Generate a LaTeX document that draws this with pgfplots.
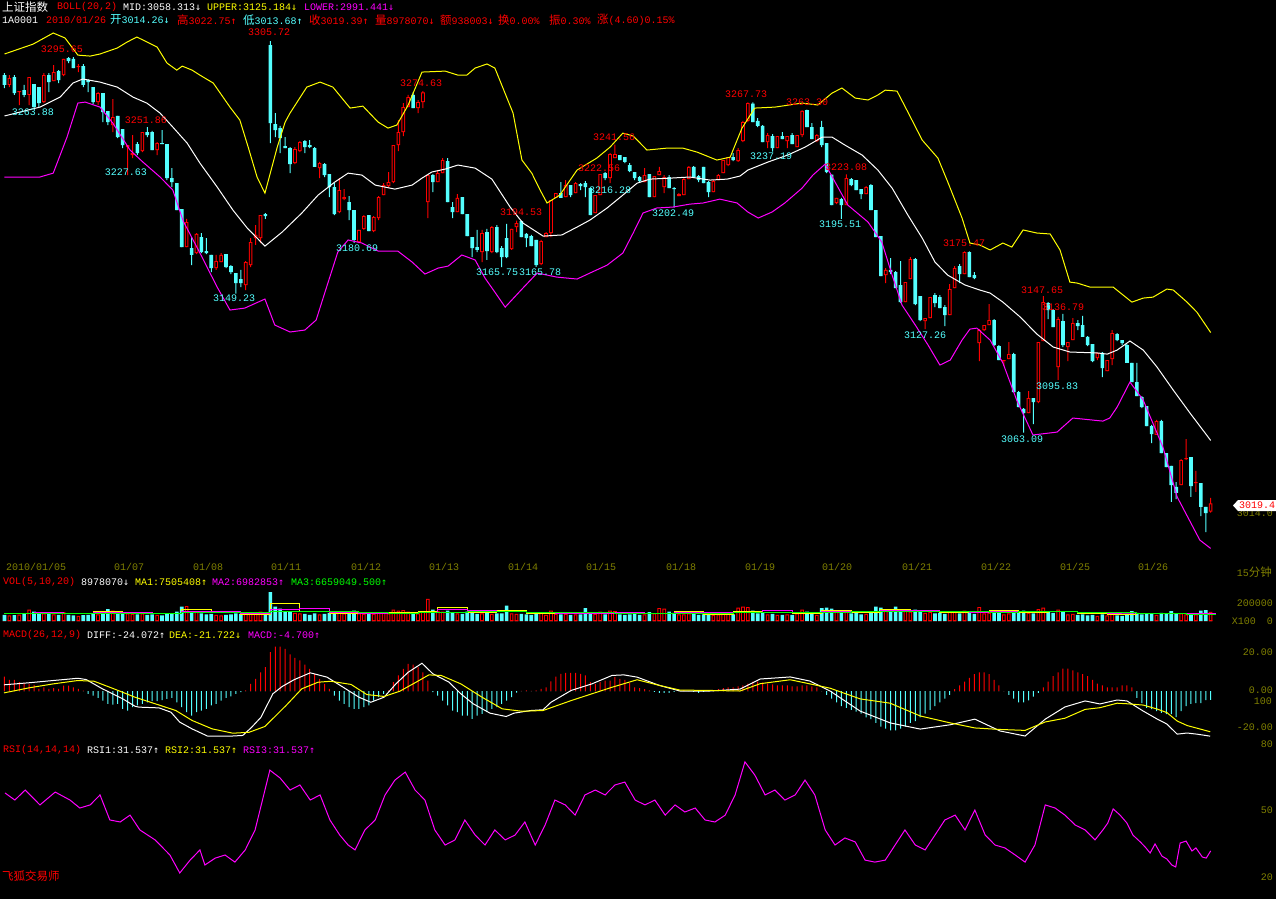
\documentclass[border=0pt]{standalone}
\usepackage{fontspec}
\setmainfont{Liberation Mono}
\newfontfamily\cjk{Noto Sans CJK SC}
\newfontfamily\arf{DejaVu Sans Mono}
\usepackage{pgfplots}
\usepackage{pgfplotstable}
\pgfplotsset{compat=1.18}
\definecolor{kred}{RGB}{255,0,0}
\definecolor{kcyan}{RGB}{84,255,255}
\definecolor{kyel}{RGB}{255,255,0}
\definecolor{kmag}{RGB}{255,0,255}
\definecolor{kgrn}{RGB}{0,255,0}
\definecolor{kolive}{RGB}{128,128,0}
\newcommand{\up}{{\arf ↑}}
\newcommand{\dn}{{\arf ↓}}
\newcommand{\C}[1]{{\fontsize{11.5}{12}\selectfont\cjk #1}}
\pgfplotsset{cb/.style 2 args={ybar, bar shift=0pt, bar width=#2, draw=none, fill=#1, mark=none},
  sb/.style 2 args={bar width=#2, draw=none, fill=#1, mark=none},
  panel/.style={anchor=north west, scale only axis, width=1220pt, xmin=-0.914, xmax=246.9, hide axis}}
\newcommand{\DN}{(\thisrow{c}<\thisrow{o})}
\newcommand{\UP}{(\thisrow{c}>=\thisrow{o})}

\pgfplotstableread{
i o h l c v m
0 3284.6 3285.9 3276.6 3278.5 60000 7.7
1 3278.5 3284.6 3277.2 3282.8 55000 6
2 3283.4 3284.6 3272.3 3273.5 58000 6
3 3274.1 3274.7 3266.1 3274.7 62000 4.7
4 3275.3 3278.5 3271.0 3272.3 70000 4.2
5 3272.3 3283.4 3266.1 3283.4 110000 3.8
6 3279.1 3279.1 3264.2 3264.8 90000 3.3
7 3277.2 3277.2 3264.8 3267.3 80000 1.2
8 3267.9 3285.9 3267.3 3284.6 75000 2
9 3284.6 3285.9 3274.1 3280.3 70000 1.2
10 3280.9 3290.8 3280.9 3286.5 65000 1.5
11 3287.1 3287.7 3279.7 3281.5 60000 1.2
12 3284.6 3294.6 3284.0 3294.6 85000 2.9
13 3295.2 3295.8 3292.1 3293.3 60000 2.9
14 3294.6 3295.8 3289.0 3289.0 55000 2
15 3289.6 3291.5 3286.5 3290.2 50000 1.2
16 3290.2 3291.5 3277.2 3278.5 58000 0.2
17 3281.5 3282.2 3274.1 3280.3 60000 -1.5
18 3277.2 3277.2 3266.7 3267.9 70000 -2.4
19 3267.9 3274.1 3266.1 3273.5 65000 -3.6
20 3273.5 3273.5 3255.5 3261.7 80000 -5.1
21 3262.3 3262.3 3253.7 3255.5 115000 -6.8
22 3253.7 3269.8 3249.3 3258.6 100000 -7.2
23 3259.3 3259.3 3245.6 3246.2 85000 -6.8
24 3251.2 3251.2 3239.4 3241.3 80000 -9.5
25 3240.0 3241.3 3222.7 3241.3 75000 -10.4
26 3235.1 3247.5 3233.2 3236.3 70000 -8.6
27 3241.9 3243.1 3235.1 3236.3 65000 -7.7
28 3237.6 3249.3 3236.9 3249.3 75000 -6.8
29 3249.3 3252.4 3246.2 3247.5 60000 -6
30 3249.3 3250.0 3238.2 3238.2 65000 -5.4
31 3238.2 3243.1 3235.1 3242.5 60000 -5.4
32 3242.5 3250.6 3241.9 3241.9 55000 -4.8
33 3241.9 3241.9 3219.6 3220.8 70000 -4.2
34 3220.8 3227.0 3215.3 3218.4 75000 -3.6
35 3217.7 3217.7 3201.0 3201.0 90000 -6
36 3201.6 3201.6 3178.1 3178.1 140000 -8.6
37 3178.1 3195.5 3178.1 3193.6 145000 -11.3
38 3177.5 3184.3 3166.9 3173.2 95000 -13.1
39 3174.4 3186.8 3173.8 3186.2 85000 -11.3
40 3184.3 3186.8 3174.4 3175.0 75000 -10.4
41 3175.6 3183.7 3173.8 3174.4 65000 -9.5
42 3173.2 3173.2 3162.6 3165.1 70000 -7.7
43 3165.1 3173.2 3163.9 3169.4 60000 -6.8
44 3168.8 3174.4 3168.8 3173.2 55000 -5.1
45 3173.8 3173.8 3165.1 3165.7 60000 -3.6
46 3166.3 3166.9 3161.4 3162.6 65000 -2.9
47 3162.0 3162.0 3149.23 3155.8 75000 -1.5
48 3158.3 3163.9 3153.3 3155.8 70000 -0.6
49 3154.6 3169.4 3151.5 3168.8 80000 0.3
50 3166.9 3183.7 3165.7 3181.2 85000 3.8
51 3183.7 3191.7 3179.4 3185.6 75000 6.5
52 3183.7 3197.9 3180.6 3197.9 90000 10
53 3198.5 3199.2 3195.5 3197.3 70000 12.7
54 3303.2 3305.72 3242.5 3254.9 280000 20.7
55 3254.3 3261.1 3246.2 3250.6 140000 23.7
56 3251.8 3253.1 3236.3 3245.6 120000 23.7
57 3240.7 3246.2 3239.4 3239.4 90000 22.5
58 3239.4 3240.0 3223.9 3229.5 95000 19.5
59 3230.1 3240.0 3229.5 3238.8 80000 17.7
60 3237.6 3243.8 3236.9 3243.1 75000 16.3
61 3243.8 3244.4 3236.3 3240.0 70000 14.1
62 3241.3 3244.4 3239.4 3240.0 60000 11.8
63 3239.4 3240.0 3227.7 3227.7 75000 9.2
64 3227.0 3230.8 3220.8 3230.1 65000 6.5
65 3229.5 3230.1 3221.5 3222.7 70000 3.8
66 3223.3 3223.3 3209.1 3215.3 80000 1.2
67 3215.3 3217.7 3197.9 3198.5 95000 -2.4
68 3199.8 3220.8 3199.2 3213.4 85000 -5.1
69 3207.8 3214.0 3207.2 3209.1 75000 -6.8
70 3206.0 3209.7 3194.8 3201.0 80000 -8.6
71 3201.0 3201.0 3180.69 3182.5 100000 -9.5
72 3181.2 3188.7 3180.6 3188.7 75000 -9.5
73 3189.3 3197.9 3188.7 3197.3 70000 -8.6
74 3197.9 3197.9 3188.0 3188.0 70000 -7.7
75 3188.0 3197.3 3187.4 3196.7 70000 -5.1
76 3196.1 3209.7 3194.8 3209.1 85000 -3.3
77 3210.3 3217.7 3210.3 3216.5 80000 -1.5
78 3215.9 3224.6 3215.3 3218.4 75000 0.3
79 3218.4 3241.3 3217.7 3241.3 110000 4.7
80 3241.3 3256.8 3237.6 3249.3 100000 8.3
81 3249.3 3267.3 3246.9 3264.8 105000 11.8
82 3264.8 3272.3 3264.8 3271.0 90000 14.5
83 3272.3 3274.0 3264.2 3264.2 85000 14.1
84 3264.2 3269.2 3261.1 3267.9 75000 12.7
85 3267.9 3274.63 3264.2 3274.0 95000 10
86 3206.0 3222.7 3196.1 3222.7 215000 5.6
87 3222.7 3223.3 3212.2 3218.4 110000 -0.6
88 3218.4 3225.8 3218.4 3223.9 95000 -2.4
89 3223.9 3233.2 3223.9 3232.0 90000 -5.1
90 3231.4 3233.2 3206.0 3206.0 100000 -7.7
91 3202.9 3206.0 3196.1 3199.8 85000 -10.4
92 3199.8 3210.9 3199.8 3208.5 75000 -11.3
93 3209.1 3209.1 3198.5 3198.5 70000 -13.1
94 3198.5 3198.5 3184.9 3184.9 90000 -13.1
95 3184.3 3184.3 3171.9 3177.5 80000 -14.8
96 3178.1 3188.7 3175.0 3176.3 70000 -13.1
97 3175.0 3188.7 3168.8 3186.8 75000 -12.2
98 3187.4 3189.3 3170.1 3175.6 80000 -11.3
99 3175.0 3191.1 3174.4 3190.5 70000 -9.5
100 3190.5 3191.7 3174.4 3175.0 75000 -8.6
101 3177.5 3178.7 3165.75 3171.9 75000 -6.8
102 3183.7 3192.4 3171.3 3171.9 150000 -5.1
103 3176.9 3189.3 3176.3 3189.3 75000 -3.3
104 3190.5 3194.53 3187.4 3193.0 70000 -0.9
105 3194.2 3194.5 3184.3 3184.3 70000 0.1
106 3186.2 3186.8 3178.1 3183.7 65000 0.3
107 3184.9 3185.6 3178.7 3178.7 60000 0.1
108 3182.5 3182.5 3165.78 3166.9 80000 0.3
109 3167.6 3182.5 3166.9 3181.8 85000 1.2
110 3184.3 3187.4 3184.3 3186.8 60000 2
111 3186.8 3207.2 3184.3 3207.2 100000 5.2
112 3208.5 3211.5 3208.5 3211.5 70000 7.7
113 3211.5 3218.4 3208.5 3208.5 65000 9.2
114 3209.1 3219.6 3209.1 3216.5 70000 9.7
115 3216.5 3216.5 3209.1 3210.3 60000 9.7
116 3211.5 3218.4 3211.5 3217.7 65000 9.7
117 3217.1 3217.7 3213.4 3215.9 65000 9.2
118 3217.7 3219.0 3209.1 3215.3 125000 8.3
119 3214.6 3214.6 3197.9 3197.9 85000 4.7
120 3199.2 3210.3 3199.2 3210.3 70000 3.8
121 3210.3 3223.3 3210.3 3223.3 90000 4.7
122 3223.9 3224.6 3219.6 3220.8 65000 5.6
123 3220.8 3236.3 3217.7 3235.7 100000 5.6
124 3233.2 3241.56 3233.2 3235.7 95000 7.4
125 3235.1 3235.1 3232.0 3232.0 65000 6.5
126 3233.8 3233.8 3230.1 3230.8 60000 6
127 3228.9 3230.1 3224.6 3225.2 65000 4.2
128 3224.6 3224.6 3219.6 3220.8 70000 2
129 3221.5 3222.1 3218.4 3219.0 60000 1.5
130 3218.4 3227.0 3218.4 3222.7 65000 1
131 3223.3 3223.3 3209.1 3209.1 85000 0.3
132 3209.1 3222.1 3209.1 3222.1 75000 -0.5
133 3222.7 3227.7 3222.7 3225.2 125000 -1
134 3215.3 3222.7 3211.5 3221.5 120000 -1
135 3221.5 3222.7 3214.6 3214.6 90000 -1
136 3214.6 3215.3 3202.49 3214.0 80000 -0.5
137 3209.7 3211.5 3209.7 3210.9 65000 0
138 3210.3 3221.5 3210.3 3220.2 65000 0.5
139 3220.2 3228.3 3220.2 3227.7 75000 0
140 3227.7 3228.3 3221.5 3221.5 70000 -0.5
141 3222.1 3222.7 3218.4 3219.6 60000 -1
142 3227.7 3227.7 3217.7 3217.7 65000 -0.5
143 3218.4 3219.0 3209.1 3212.2 60000 0
144 3212.2 3219.6 3212.2 3219.0 60000 0.5
145 3219.6 3223.3 3219.6 3222.7 65000 1
146 3223.9 3232.0 3223.9 3232.0 75000 1.5
147 3228.9 3233.8 3228.3 3233.8 70000 2
148 3233.8 3236.3 3231.4 3232.0 65000 2
149 3231.4 3239.4 3230.8 3238.2 130000 2.5
150 3243.8 3256.2 3243.1 3255.5 140000 3
151 3256.2 3267.73 3255.5 3267.2 135000 4
152 3267.0 3267.7 3255.5 3255.5 100000 5
153 3256.2 3258.0 3252.4 3253.1 75000 5
154 3253.1 3253.7 3243.1 3243.1 80000 4.5
155 3243.1 3248.7 3239.4 3247.5 65000 4
156 3246.9 3248.1 3237.19 3239.4 70000 3.5
157 3239.4 3246.9 3239.4 3246.9 60000 3
158 3246.9 3249.3 3245.0 3245.0 60000 3
159 3243.8 3246.9 3239.4 3246.9 65000 3
160 3247.5 3248.7 3241.9 3241.9 60000 2.5
161 3240.0 3247.5 3240.0 3247.5 75000 2.5
162 3247.5 3262.8 3246.2 3262.5 110000 3
163 3262.9 3263.30 3252.4 3252.4 90000 3
164 3252.4 3254.9 3245.0 3245.0 70000 2.5
165 3243.8 3248.1 3243.1 3247.5 60000 2
166 3252.4 3256.2 3240.0 3241.3 125000 0
167 3242.5 3242.5 3223.9 3224.6 130000 -2
168 3222.9 3223.0 3204.1 3204.1 120000 -4
169 3205.4 3208.5 3204.7 3208.5 85000 -6
170 3207.8 3208.5 3195.51 3204.1 90000 -8
171 3204.1 3223.08 3204.1 3220.8 100000 -9
172 3220.2 3220.8 3215.9 3216.5 75000 -10
173 3219.6 3219.6 3213.4 3213.4 80000 -11
174 3214.0 3214.0 3207.8 3210.9 65000 -12
175 3210.9 3215.9 3210.9 3215.3 70000 -14
176 3216.5 3217.1 3201.0 3201.0 90000 -15
177 3201.0 3201.0 3184.3 3184.3 140000 -17
178 3184.9 3184.9 3160.1 3160.1 130000 -19
179 3160.7 3165.1 3155.8 3163.9 100000 -20
180 3163.9 3171.3 3161.4 3162.6 85000 -21
181 3162.6 3163.2 3152.7 3152.7 140000 -21
182 3154.6 3169.4 3143.4 3144.0 115000 -20
183 3144.0 3156.4 3144.0 3156.4 100000 -19
184 3158.3 3171.9 3158.3 3170.7 90000 -17
185 3170.7 3171.3 3142.2 3142.8 110000 -16
186 3147.7 3147.7 3132.3 3132.9 100000 -14
187 3132.3 3134.1 3127.26 3134.1 80000 -12
188 3134.1 3147.1 3134.1 3147.1 85000 -10
189 3148.4 3149.6 3140.9 3143.4 75000 -8
190 3147.1 3148.4 3140.3 3140.3 80000 -6
191 3140.9 3142.2 3129.2 3136.0 70000 -4
192 3136.0 3155.2 3136.0 3152.1 90000 -2
193 3152.7 3166.3 3152.7 3165.1 85000 1
194 3166.3 3167.6 3155.8 3161.4 75000 3
195 3161.4 3175.47 3161.4 3175.0 100000 5
196 3175.0 3175.4 3159.5 3159.5 90000 7
197 3160.7 3162.6 3158.3 3158.9 70000 9
198 3118.6 3127.3 3107.5 3126.7 135000 10
199 3126.7 3129.8 3126.1 3129.8 75000 10
200 3129.8 3142.8 3129.8 3132.9 80000 9
201 3132.9 3133.5 3116.8 3117.4 85000 6
202 3116.8 3117.4 3108.1 3108.1 85000 3
203 3107.5 3108.1 3104.4 3108.1 65000 0
204 3108.7 3119.3 3108.7 3111.8 75000 -2
205 3111.8 3112.5 3088.3 3088.3 100000 -4
206 3088.3 3088.9 3079.0 3079.0 90000 -6
207 3077.8 3078.4 3063.09 3075.3 100000 -6
208 3075.3 3088.9 3075.3 3084.6 80000 -5
209 3084.6 3084.6 3068.5 3082.1 75000 -3
210 3082.1 3119.3 3081.5 3119.3 115000 -1
211 3119.9 3147.65 3119.9 3144.0 130000 2
212 3143.4 3144.0 3133.5 3139.1 90000 5
213 3139.1 3139.7 3128.5 3128.5 80000 8
214 3103.8 3134.8 3095.83 3133.5 110000 10
215 3132.3 3136.79 3116.2 3117.4 85000 12
216 3116.2 3119.3 3107.5 3119.3 65000 12
217 3120.5 3134.1 3120.5 3131.0 70000 11
218 3131.0 3132.9 3126.7 3129.2 60000 10
219 3129.8 3135.5 3122.4 3122.4 65000 9
220 3122.4 3123.0 3116.8 3117.4 55000 8
221 3118.0 3118.0 3106.9 3107.5 60000 6
222 3109.3 3112.5 3108.1 3112.5 50000 4
223 3112.5 3113.1 3097.6 3103.1 65000 3
224 3101.3 3108.1 3101.3 3108.1 55000 2
225 3108.7 3126.7 3105.0 3124.8 75000 2
226 3124.2 3124.8 3119.9 3120.5 55000 2
227 3120.5 3120.5 3117.4 3118.6 50000 3
228 3117.4 3118.0 3106.3 3106.3 70000 3
229 3106.3 3106.3 3094.5 3094.5 95000 2
230 3094.5 3106.3 3085.8 3085.8 80000 -3.7
231 3085.2 3085.8 3078.4 3079.0 65000 -6.4
232 3079.6 3079.6 3067.2 3067.2 70000 -9
233 3067.2 3067.9 3056.7 3062.3 75000 -9.6
234 3061.7 3071.0 3061.7 3070.3 60000 -10.7
235 3070.3 3071.0 3050.5 3050.5 80000 -11.7
236 3050.5 3050.5 3041.8 3041.8 75000 -12.3
237 3042.5 3042.5 3020.2 3030.7 95000 -12.3
238 3029.5 3032.5 3022.0 3025.8 70000 -13.9
239 3030.7 3046.8 3030.7 3046.2 75000 -10.7
240 3046.8 3059.2 3046.2 3047.4 65000 -8
241 3048.0 3048.0 3023.3 3030.1 70000 -6.9
242 3031.9 3039.4 3026.4 3032.5 65000 -6.4
243 3031.9 3031.9 3011.5 3017.1 100000 -6.4
244 3017.1 3017.1 3001.6 3013.3 105000 -4.8
245 3014.26 3022.75 3013.68 3019.39 89781 -4.7
}\candles

\begin{document}
\begin{tikzpicture}[every node/.style={font=\fontsize{10}{12}\selectfont, inner sep=0pt}]
\fill[black] (0pt,0pt) rectangle (1276pt,-899pt);

% ---------------- main price panel: wicks (floating stacked bars)
\begin{axis}[panel, at={(0pt,-28pt)}, height=530pt, ymin=2985.5, ymax=3313.8, ybar stacked]
\addplot[sb={none}{1pt}] table[x=i, y=l] {\candles};
\addplot[sb={kcyan}{1pt}] table[x=i, y expr={\DN*(\thisrow{h}-\thisrow{l})}] {\candles};
\addplot[sb={kred}{1pt}] table[x=i, y expr={\UP*(\thisrow{h}-\thisrow{l})}] {\candles};
\end{axis}
% bodies
\begin{axis}[panel, at={(0pt,-28pt)}, height=530pt, ymin=2985.5, ymax=3313.8, ybar stacked]
\addplot[sb={none}{3.6pt}] table[x=i, y expr={min(\thisrow{o},\thisrow{c})}] {\candles};
\addplot[sb={kcyan}{3.6pt}] table[x=i, y expr={\DN*max(\thisrow{o}-\thisrow{c},0.62)}] {\candles};
\addplot[sb={kred}{3.6pt}] table[x=i, y expr={\UP*max(\thisrow{c}-\thisrow{o},0.62)}] {\candles};
\end{axis}
% hollow interior of rising candles
\begin{axis}[panel, at={(0pt,-28pt)}, height=530pt, ymin=2985.5, ymax=3313.8, ybar stacked]
\addplot[sb={none}{1.6pt}] table[x=i, y expr={min(\thisrow{o},\thisrow{c})+0.62}] {\candles};
\addplot[sb={black}{1.6pt}] table[x=i, y expr={\UP*max(\thisrow{c}-\thisrow{o}-1.24,0)}] {\candles};
\end{axis}
% Bollinger bands
\begin{axis}[panel, at={(0pt,-28pt)}, height=530pt, ymin=2985.5, ymax=3313.8]
\addplot[kyel, line width=1pt, mark=none] coordinates {(0,3297.7)(5.8,3303.8)(9.9,3310.7)(12.3,3307.6)(14.9,3297.0)(17.4,3296.4)(19.4,3297.7)(22.9,3301.4)(24.9,3305.1)(26.9,3308.2)(31.0,3302.0)(33.0,3292.1)(35.0,3287.7)(36.1,3290.2)(38.1,3287.7)(39.7,3284.6)(42.4,3279.7)(45.8,3264.8)(47.8,3256.8)(49.5,3240.0)(51.3,3221.5)(52.9,3211.5)(55.4,3240.0)(57.0,3255.5)(58.0,3261.1)(61.4,3277.2)(64.1,3280.3)(66.7,3277.2)(70.2,3264.2)(72.8,3265.4)(75.9,3255.5)(77.9,3251.8)(79.7,3253.7)(82.0,3266.1)(84.8,3286.5)(89.5,3287.1)(92.1,3284.6)(93.9,3284.6)(95.6,3289.0)(98.0,3291.5)(99.6,3289.0)(100.6,3281.5)(103.3,3261.1)(105.1,3232.0)(107.1,3223.9)(108.8,3213.4)(110.2,3205.4)(112.8,3210.3)(116.3,3225.8)(120.3,3233.2)(123.0,3240.0)(125.6,3248.7)(127.7,3246.9)(130.5,3238.2)(134.6,3239.4)(137.8,3239.4)(140.7,3236.9)(144.7,3232.0)(147.4,3233.8)(149.8,3251.8)(152.4,3264.2)(156.5,3264.8)(162.0,3267.3)(165.2,3266.1)(168.1,3273.5)(170.1,3276.6)(172.8,3270.4)(175.4,3269.2)(177.4,3272.3)(178.9,3275.3)(181.3,3274.7)(183.5,3261.7)(186.4,3244.4)(189.6,3233.2)(191.6,3218.4)(194.5,3196.1)(196.1,3180.6)(198.1,3179.4)(200.2,3176.3)(202.8,3180.6)(204.6,3178.1)(206.9,3188.7)(209.7,3186.8)(212.4,3186.2)(214.4,3176.3)(216.4,3156.4)(217.9,3155.8)(220.5,3153.3)(225.2,3153.3)(229.0,3144.0)(231.3,3146.5)(233.3,3147.1)(236.1,3152.1)(237.4,3151.5)(240.2,3144.0)(242.2,3137.8)(245,3125.18)};
\addplot[white, line width=1pt, mark=none] coordinates {(0,3259.3)(3.1,3261.7)(7.2,3264.8)(11.3,3271.0)(13.9,3279.7)(15.9,3282.2)(19.4,3280.3)(22.9,3277.2)(26.1,3271.0)(28.9,3267.3)(31.6,3261.1)(34.2,3252.4)(37.1,3242.5)(39.7,3230.1)(43.2,3215.3)(46.4,3201.0)(49.3,3189.9)(52.9,3178.7)(56.4,3187.4)(60.4,3199.2)(63.7,3210.3)(67.1,3218.4)(69.8,3223.9)(72.6,3222.7)(75.3,3216.5)(79.3,3214.0)(82.8,3216.5)(84.8,3220.8)(86.8,3224.6)(89.5,3226.4)(92.1,3228.9)(95.6,3227.0)(99.0,3220.2)(102.7,3202.9)(105.3,3193.0)(109.4,3184.9)(113.2,3185.6)(116.3,3190.5)(118.9,3194.8)(122.4,3202.3)(125.6,3210.3)(128.5,3217.7)(131.1,3220.2)(135.2,3220.8)(139.2,3221.5)(143.3,3219.6)(146.8,3220.2)(149.4,3222.1)(151.0,3225.8)(155.1,3230.8)(159.1,3235.1)(162.6,3240.0)(166.1,3246.2)(168.1,3246.2)(170.7,3241.3)(174.2,3235.1)(177.4,3225.8)(180.3,3214.6)(183.5,3197.9)(186.4,3183.7)(189.0,3168.8)(191.6,3160.7)(195.1,3154.6)(198.1,3151.5)(200.2,3149.6)(202.8,3144.0)(206.3,3134.8)(209.7,3124.2)(213.0,3116.2)(216.4,3113.1)(222.0,3112.5)(224.0,3111.8)(226.0,3114.3)(228.6,3119.9)(231.3,3114.3)(234.1,3103.8)(237.4,3089.5)(240.8,3075.3)(243.4,3064.8)(245,3058.31)};
\addplot[kmag, line width=1pt, mark=none] coordinates {(0,3221.5)(3.1,3221.5)(7.2,3221.5)(9.9,3223.9)(12.7,3246.2)(14.9,3267.3)(16.4,3267.9)(19.4,3264.8)(22.0,3254.9)(25.5,3238.2)(28.1,3230.8)(31.6,3221.5)(34.2,3213.4)(36.3,3194.2)(39.7,3174.4)(43.2,3153.3)(45.8,3139.1)(48.8,3140.3)(52.9,3145.9)(54.9,3129.8)(58.0,3125.5)(61.0,3126.7)(63.3,3132.9)(65.1,3150.2)(67.7,3175.0)(69.8,3182.5)(72.6,3180.6)(75.9,3175.6)(79.9,3175.6)(82.8,3168.8)(85.4,3161.4)(88.1,3165.1)(90.1,3166.3)(92.9,3173.2)(95.6,3170.1)(97.6,3158.9)(99.6,3150.2)(101.7,3140.9)(105.3,3152.7)(108.2,3162.0)(112.2,3159.5)(116.3,3158.3)(118.9,3162.0)(122.4,3166.9)(125.6,3174.4)(127.7,3186.8)(129.7,3199.2)(132.5,3202.3)(135.8,3202.9)(139.2,3204.7)(141.9,3205.4)(145.3,3207.8)(148.8,3205.4)(151.0,3199.8)(153.1,3196.1)(155.9,3199.8)(158.5,3205.4)(162.0,3214.6)(164.2,3222.7)(166.7,3229.5)(168.7,3218.4)(171.3,3204.1)(175.4,3193.6)(178.2,3181.2)(180.3,3160.7)(182.3,3142.2)(185.0,3129.8)(187.6,3117.4)(190.0,3105.0)(192.1,3108.1)(194.5,3120.5)(196.1,3127.3)(197.5,3127.9)(200.2,3120.5)(202.8,3106.3)(205.6,3083.3)(208.9,3061.7)(213.8,3063.5)(217.0,3072.2)(223.1,3070.3)(224.5,3072.2)(226.0,3079.0)(228.6,3094.5)(231.3,3083.3)(235.3,3054.2)(238.2,3023.3)(242.8,2996.6)(245,2991.44)};
\end{axis}

% ---------------- volume panel
\begin{axis}[panel, at={(0pt,-590pt)}, height=31pt, ymin=0, ymax=300700, clip=false]
\addplot[cb={kcyan}{3.6pt}] table[x=i, y expr={\DN*\thisrow{v}}] {\candles};
\addplot[cb={kred}{3.6pt}] table[x=i, y expr={\UP*\thisrow{v}}] {\candles};
\addplot[cb={black}{1.6pt}] table[x=i, y expr={\UP*max(\thisrow{v}-9700,0)}] {\candles};
\addplot[cb={kred}{3.6pt}] table[x=i, y expr={\UP*9700}] {\candles};
\addplot[kyel, const plot, line width=1pt, mark=none] coordinates {(0,70000)(6,85000)(12,68000)(18,90000)(24,85000)(30,70000)(36,110000)(42,80000)(48,65000)(54,170000)(60,90000)(66,75000)(72,70000)(78,80000)(84,95000)(88,130000)(94,80000)(100,100000)(106,75000)(112,70000)(118,85000)(124,70000)(130,75000)(136,90000)(142,65000)(148,95000)(154,105000)(160,75000)(166,100000)(172,85000)(178,110000)(184,95000)(190,80000)(196,85000)(200,105000)(206,85000)(212,95000)(218,70000)(224,62000)(230,72000)(236,70000)(240,72000)(246,75054)};
\addplot[kmag, const plot, line width=1pt, mark=none] coordinates {(0,72000)(6,78000)(12,76000)(18,80000)(24,84000)(30,76000)(36,90000)(42,92000)(48,76000)(54,115000)(60,125000)(66,82000)(72,72000)(78,75000)(84,82000)(88,110000)(94,100000)(100,90000)(106,85000)(112,72000)(118,76000)(124,78000)(130,72000)(136,82000)(142,78000)(148,80000)(154,100000)(160,85000)(166,88000)(172,95000)(178,100000)(184,100000)(190,88000)(196,80000)(200,90000)(206,92000)(212,90000)(218,80000)(224,68000)(230,68000)(236,70000)(240,70000)(246,69828)};
\addplot[kgrn, const plot, line width=1pt, mark=none] coordinates {(0,70000)(6,72000)(12,72000)(18,74000)(24,75000)(30,75000)(36,80000)(42,82000)(48,78000)(54,90000)(60,95000)(66,95000)(72,82000)(78,76000)(84,78000)(88,86000)(94,88000)(100,90000)(106,86000)(112,82000)(118,78000)(124,76000)(130,74000)(136,76000)(142,76000)(148,78000)(154,82000)(160,85000)(166,85000)(172,88000)(178,92000)(184,95000)(190,93000)(196,88000)(200,86000)(206,88000)(212,90000)(218,86000)(224,78000)(230,70000)(236,68000)(240,67000)(246,66590)};
\end{axis}

% ---------------- MACD panel
\begin{axis}[panel, at={(0pt,-645pt)}, height=95pt, ymin=-26.13, ymax=24.53]
\addplot[cb={kred}{1pt}] table[x=i, y expr={max(\thisrow{m},0)}] {\candles};
\addplot[cb={kcyan}{1pt}] table[x=i, y expr={min(\thisrow{m},0)}] {\candles};
\addplot[white, line width=1pt, mark=none] coordinates {(-0.1,3.3)(5.0,4.4)(9.9,5.6)(14.9,6.8)(16.6,6.1)(19.8,1.3)(23.9,-4)(26.5,-8.1)(27.3,-8.6)(31.4,-9)(33.8,-11.3)(35.6,-16.6)(38.1,-20.2)(41.3,-24.1)(45.6,-24.1)(48.4,-23.7)(50.1,-19.6)(52.1,-14)(54.5,-1.5)(56.4,2.4)(58.8,6)(62.1,9.7)(65.5,7.4)(68.8,2)(72.0,-3.3)(74.4,-6)(77.1,-3.3)(79.5,3.8)(82.0,10)(84.8,14.8)(87.0,9.2)(90.3,4.7)(92.7,-1.5)(95.2,-6.8)(98.6,-11.8)(101.9,-13.6)(103.5,-11.8)(106.9,-10.4)(109.4,-10)(111.0,-6)(115.1,0.3)(119.3,3.8)(123.4,8.3)(125.8,8.6)(128.5,7.4)(133,3)(137.2,0)(143.3,0)(149.4,1.0)(153.5,6.4)(159.6,7.5)(163.6,5.3)(167.7,0)(173.8,-10.7)(179.9,-17.0)(186.0,-20.3)(192.1,-18.0)(197.1,-15.0)(202.2,-21.3)(207.3,-24.0)(211.4,-15.0)(215.4,-8.5)(219.5,-5.3)(222.5,-6.9)(226.0,-4.8)(228.0,-5.3)(231.3,-10.7)(234.1,-14.9)(236.1,-17.6)(238.2,-23.0)(240.2,-22.4)(242.2,-23.0)(244.9,-24.07)};
\addplot[kyel, line width=1pt, mark=none] coordinates {(-0.1,-1)(5.0,1.7)(9.9,3.8)(14.9,5.6)(18.2,5.2)(22.2,1.2)(26.5,-3.3)(30.6,-6.8)(34.8,-10.4)(38.1,-15.7)(42.2,-20.2)(46.4,-22.5)(49.7,-22)(52.9,-18.9)(57.2,-7.7)(60.4,1.2)(63.7,4.7)(66.3,5.2)(70.4,3.5)(73.6,-1.9)(77.1,-2.9)(80.3,-0.1)(83.6,4.7)(86.2,8.6)(88.7,8.3)(92.7,3.8)(97.0,-3.3)(101.1,-9.5)(105.1,-10.8)(109.4,-10.4)(115.1,-5.1)(119.3,-1.5)(123.4,2)(128.5,6)(133,3)(137.2,0.5)(143.3,0.3)(149.4,0)(153.5,3.9)(159.6,6)(163.6,3.8)(167.7,1.5)(173.8,-4.2)(179.9,-6.5)(186,-13.3)(192.1,-17)(197.1,-19.7)(202.2,-20.5)(207.3,-21)(211.4,-16.5)(215.4,-14.5)(219.5,-9.8)(222.5,-8.9)(226,-6.5)(228,-6.8)(231.3,-7.5)(234.1,-9.6)(236.1,-11.5)(238.2,-16)(240.2,-18.4)(242.2,-19.8)(244.9,-21.72)};
\end{axis}

% ---------------- RSI panel
\begin{axis}[panel, at={(0pt,-760pt)}, height=130pt, ymin=13.91, ymax=72.56, clip=false]
\addplot[kmag, line width=1pt, mark=none] coordinates {(0.1,57.7)(2.1,54.5)(4.2,59.0)(7.2,52.3)(10.3,58.1)(13.3,54.5)(15.3,50.9)(17.4,52.3)(19.4,56.8)(21.4,45.5)(23.5,44.6)(25.5,47.7)(27.5,41.0)(30.6,36.5)(33.6,29.7)(35.6,21.6)(37.7,27.4)(39.7,32.0)(40.7,25.2)(42.8,28.3)(44.8,29.7)(46.8,26.5)(48.9,32.0)(50.9,41.0)(52.9,59.0)(53.9,68.0)(56.0,64.4)(58.0,59.0)(60.0,61.3)(62.1,54.5)(64.1,56.8)(66.1,45.5)(68.1,38.7)(69.8,34.2)(71.2,32.0)(73.2,41.0)(75.3,45.5)(77.3,56.8)(79.3,63.5)(81.4,67.1)(83.4,59.0)(85.4,54.5)(87.4,41.0)(89.5,34.2)(91.5,36.5)(93.5,45.5)(95.6,38.7)(97.6,34.2)(99.6,41.0)(101.7,36.5)(103.7,38.7)(105.7,44.6)(107.8,34.2)(109.8,43.2)(111.8,54.5)(113.9,52.3)(115.9,47.7)(117.9,56.8)(120.0,59.0)(122.0,56.8)(124.0,61.3)(126.0,62.6)(128.1,54.5)(130.1,52.3)(132.1,54.5)(134.2,47.7)(136.2,52.3)(138.2,49.1)(140.3,50.9)(142.3,45.5)(144.3,44.6)(146.4,47.7)(148.4,56.8)(150.4,71.7)(152.4,65.8)(154.5,56.8)(156.5,59.0)(158.5,54.5)(160.6,56.8)(162.6,63.5)(164.6,56.8)(166.7,41.0)(168.7,34.2)(170.7,37.4)(172.8,35.6)(174.8,27.4)(176.8,26.5)(178.9,27.4)(180.9,34.2)(182.9,41.0)(185.0,34.2)(187.0,32.0)(189.0,38.7)(191.0,45.5)(193.1,47.7)(195.1,41.0)(197.1,50.0)(199.2,38.7)(201.2,34.2)(203.2,32.9)(205.3,29.7)(207.3,26.5)(209.3,34.2)(211.4,52.3)(213.4,50.9)(215.4,47.7)(217.5,43.2)(219.5,41.0)(221.5,36.5)(223.1,41.0)(224.1,44.1)(225.2,50.5)(226.6,47.7)(228.0,44.1)(229.2,38.7)(230.7,35.6)(231.7,33.3)(232.7,30.6)(233.7,34.7)(235.1,29.2)(236.1,27.9)(237.1,25.2)(237.9,24.3)(238.8,35.1)(240.0,36.0)(241.2,31.5)(242.0,32.9)(243.3,28.8)(244.1,28.3)(245,31.54)};
\end{axis}

% ---------------- header texts
\node[anchor=west, white] at (2pt,-7pt) {\C{上证指数}};
\node[anchor=west, kred] at (57pt,-7pt) {BOLL(20,2)};
\node[anchor=west, white] at (123pt,-7pt) {MID:3058.313\dn};
\node[anchor=west, kyel] at (207pt,-7pt) {UPPER:3125.184\dn};
\node[anchor=west, kmag] at (304pt,-7pt) {LOWER:2991.441\dn};
\node[anchor=west, white] at (2pt,-20pt) {1A0001};
\node[anchor=west, kred] at (46pt,-20pt) {2010/01/26};
\node[anchor=west, kcyan] at (110pt,-20pt) {\C{开}3014.26\dn};
\node[anchor=west, kred] at (177pt,-20pt) {\C{高}3022.75\up};
\node[anchor=west, kcyan] at (243pt,-20pt) {\C{低}3013.68\up};
\node[anchor=west, kred] at (309pt,-20pt) {\C{收}3019.39\up};
\node[anchor=west, kred] at (375pt,-20pt) {\C{量}8978070\dn};
\node[anchor=west, kred] at (440pt,-20pt) {\C{额}938003\dn};
\node[anchor=west, kred] at (498pt,-20pt) {\C{换}0.00\%};
\node[anchor=west, kred] at (549pt,-20pt) {\C{振}0.30\%};
\node[anchor=west, kred] at (597pt,-20pt) {\C{涨}(4.60)0.15\%};

% price annotations
\node[kred] at (62pt,-49pt) {3295.65};
\node[kcyan] at (33pt,-112pt) {3263.88};
\node[kred] at (146pt,-120pt) {3251.86};
\node[kcyan] at (126pt,-172pt) {3227.63};
\node[kcyan] at (234pt,-298pt) {3149.23};
\node[kred] at (269pt,-32pt) {3305.72};
\node[kcyan] at (357pt,-248pt) {3180.69};
\node[kred] at (421pt,-83pt) {3274.63};
\node[kred] at (521pt,-212pt) {3194.53};
\node[kcyan] at (497pt,-272pt) {3165.75};
\node[kcyan] at (540pt,-272pt) {3165.78};
\node[kred] at (599pt,-168pt) {3222.56};
\node[kcyan] at (610pt,-190pt) {3216.28};
\node[kred] at (614pt,-137pt) {3241.56};
\node[kcyan] at (673pt,-213pt) {3202.49};
\node[kred] at (746pt,-94pt) {3267.73};
\node[kred] at (807pt,-102pt) {3263.30};
\node[kcyan] at (771pt,-156pt) {3237.19};
\node[kred] at (846pt,-167pt) {3223.08};
\node[kcyan] at (840pt,-224pt) {3195.51};
\node[kcyan] at (925pt,-335pt) {3127.26};
\node[kred] at (964pt,-243pt) {3175.47};
\node[kred] at (1042pt,-290pt) {3147.65};
\node[kred] at (1063pt,-307pt) {3136.79};
\node[kcyan] at (1057pt,-386pt) {3095.83};
\node[kcyan] at (1022pt,-439pt) {3063.09};

% last price marker
\node[anchor=east, kolive] at (1273pt,-513pt) {3014.0};
\fill[white] (1233pt,-505.5pt) -- (1238pt,-500pt) -- (1276pt,-500pt) -- (1276pt,-511pt) -- (1238pt,-511pt) -- cycle;
\node[kred] at (1257pt,-505.5pt) {3019.4};

% date axis
\node[anchor=west, kolive] at (6pt,-567pt) {2010/01/05};
\node[anchor=west, kolive] at (114pt,-567pt) {01/07};
\node[anchor=west, kolive] at (193pt,-567pt) {01/08};
\node[anchor=west, kolive] at (271pt,-567pt) {01/11};
\node[anchor=west, kolive] at (351pt,-567pt) {01/12};
\node[anchor=west, kolive] at (429pt,-567pt) {01/13};
\node[anchor=west, kolive] at (508pt,-567pt) {01/14};
\node[anchor=west, kolive] at (586pt,-567pt) {01/15};
\node[anchor=west, kolive] at (666pt,-567pt) {01/18};
\node[anchor=west, kolive] at (745pt,-567pt) {01/19};
\node[anchor=west, kolive] at (822pt,-567pt) {01/20};
\node[anchor=west, kolive] at (902pt,-567pt) {01/21};
\node[anchor=west, kolive] at (981pt,-567pt) {01/22};
\node[anchor=west, kolive] at (1060pt,-567pt) {01/25};
\node[anchor=west, kolive] at (1138pt,-567pt) {01/26};
\node[anchor=east, kolive] at (1272pt,-572pt) {15\C{分钟}};

% VOL header
\node[anchor=west, kred] at (3pt,-582pt) {VOL(5,10,20)};
\node[anchor=west, white] at (81pt,-582pt) {8978070\dn};
\node[anchor=west, kyel] at (135pt,-582pt) {MA1:7505408\up};
\node[anchor=west, kmag] at (212pt,-582pt) {MA2:6982853\up};
\node[anchor=west, kgrn] at (291pt,-582pt) {MA3:6659049.500\up};
% MACD header
\node[anchor=west, kred] at (3pt,-635pt) {MACD(26,12,9)};
\node[anchor=west, white] at (87pt,-635pt) {DIFF:-24.072\up};
\node[anchor=west, kyel] at (169pt,-635pt) {DEA:-21.722\dn};
\node[anchor=west, kmag] at (248pt,-635pt) {MACD:-4.700\up};
% RSI header
\node[anchor=west, kred] at (3pt,-750pt) {RSI(14,14,14)};
\node[anchor=west, white] at (87pt,-750pt) {RSI1:31.537\up};
\node[anchor=west, kyel] at (165pt,-750pt) {RSI2:31.537\up};
\node[anchor=west, kmag] at (243pt,-750pt) {RSI3:31.537\up};
\node[anchor=west, kred] at (2pt,-876pt) {\C{飞狐交易师}};

% right scale labels
\node[anchor=east, kolive] at (1273pt,-603pt) {200000};
\node[anchor=east, kolive] at (1256pt,-621pt) {X100};
\node[anchor=east, kolive] at (1273pt,-621pt) {0};
\node[anchor=east, kolive] at (1273pt,-652pt) {20.00};
\node[anchor=east, kolive] at (1273pt,-690pt) {0.00};
\node[anchor=east, kolive] at (1272pt,-701pt) {100};
\node[anchor=east, kolive] at (1273pt,-727pt) {-20.00};
\node[anchor=east, kolive] at (1273pt,-744pt) {80};
\node[anchor=east, kolive] at (1273pt,-810pt) {50};
\node[anchor=east, kolive] at (1273pt,-877pt) {20};

\pgfresetboundingbox
\path[use as bounding box] (0pt,0pt) rectangle (1276pt,-899pt);
\end{tikzpicture}
\end{document}
